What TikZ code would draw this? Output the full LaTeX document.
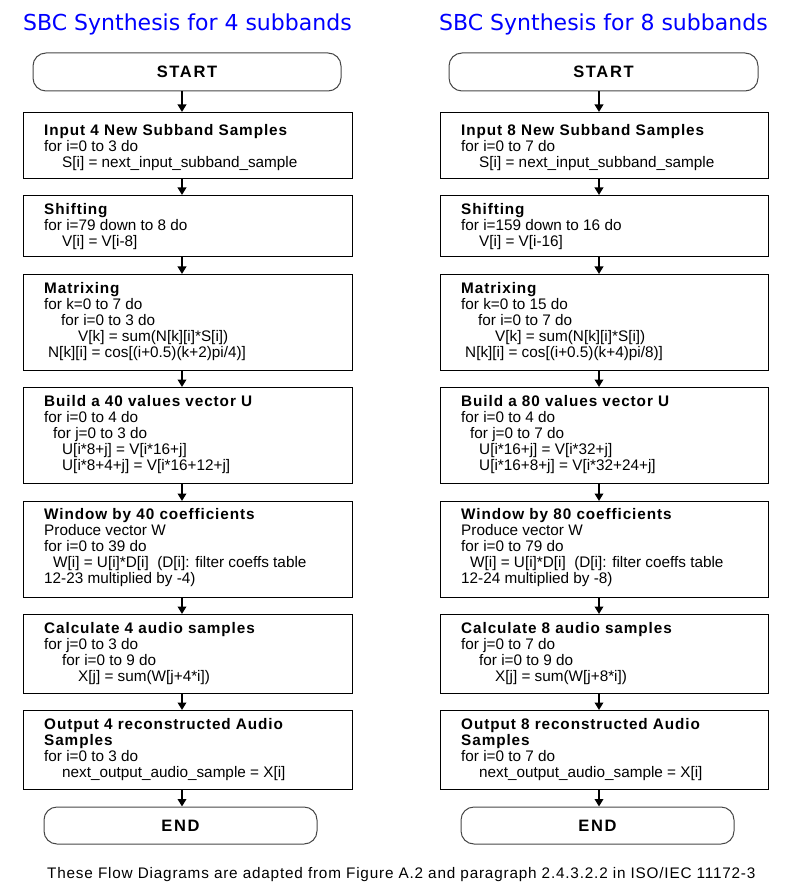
\documentclass[tikz,border=0pt]{standalone}
\usepackage{fontspec}
\setmainfont{Liberation Sans}
\newfontfamily\titlefont{DejaVu Sans}
\newfontfamily\hdfont{Liberation Sans}[LetterSpace=6]
\newfontfamily\termfont{Liberation Sans}[LetterSpace=10]
\newfontfamily\footfont{Liberation Sans}[LetterSpace=5.3]
\usetikzlibrary{arrows.meta}
\definecolor{ttlblue}{RGB}{0,0,255}
\definecolor{termgray}{RGB}{70,70,70}
\newcommand{\hd}[1]{{\hdfont\bfseries #1}}
\tikzset{
  box/.style={draw=black, line width=1.1pt, anchor=north west, inner sep=0pt},
  term/.style={draw=termgray, line width=1pt, rounded corners=13pt, inner sep=0pt,
    font=\termfont\bfseries\fontsize{16.5}{18}\selectfont},
  txt/.style={anchor=north west, inner sep=0pt, align=left, font=\fontsize{15.3}{16}\selectfont},
  arr/.style={line width=2pt, -{Triangle[width=8.5pt,length=7.5pt]}},
  ttl/.style={anchor=base west, inner sep=0pt, text=ttlblue, font=\titlefont\fontsize{22}{26}\selectfont},
  foot/.style={anchor=base west, inner sep=0pt, font=\footfont\fontsize{15.3}{18}\selectfont},
}
\begin{document}
\begin{tikzpicture}[x=1pt,y=-1pt]
\useasboundingbox (0,0) rectangle (798,890);
% titles
\node[ttl] (titleL) at (23,30.5) {SBC Synthesis for 4 subbands};
\node[ttl] (titleR) at (439,30.5) {SBC Synthesis for 8 subbands};
% axes for arrows
\coordinate (axL) at (182,0);
\coordinate (axR) at (599,0);
% ---------------- LEFT COLUMN ----------------
\node[term, minimum width=308pt, minimum height=38pt] (startL) at (187,72) {START};
\node[box, minimum width=329pt, minimum height=66pt] (b1L) at (23,112) {};
\node[box, minimum width=329pt, minimum height=61pt] (b2L) at (23,195) {};
\node[box, minimum width=329pt, minimum height=96pt] (b3L) at (23,274) {};
\node[box, minimum width=329pt, minimum height=96pt] (b4L) at (23,387) {};
\node[box, minimum width=329pt, minimum height=96pt] (b5L) at (23,501) {};
\node[box, minimum width=329pt, minimum height=79pt] (b6L) at (23,614) {};
\node[box, minimum width=329pt, minimum height=79pt] (b7L) at (23,710) {};
\node[term, minimum width=273pt, minimum height=37pt] (endL) at (180.5,825.5) {END};

\node[txt] (t1L) at ([shift={(21pt,-12.5pt)}]b1L.north west)
  {\hd{Input 4 New Subband Samples}\\for i=0 to 3 do\\\hspace*{18pt}S[i] = next\_input\_subband\_sample};
\node[txt] (t2L) at ([shift={(21pt,-8pt)}]b2L.north west)
  {\hd{Shifting}\\for i=79 down to 8 do\\\hspace*{18pt}V[i] = V[i-8]};
\node[txt] (t3L) at ([shift={(21pt,-8pt)}]b3L.north west)
  {\hd{Matrixing}\\for k=0 to 7 do\\\hspace*{17pt}for i=0 to 3 do\\\hspace*{34pt}V[k] = sum(N[k][i]*S[i])\\\hspace*{4pt}N[k][i] = cos[(i+0.5)(k+2)pi/4)]};
\node[txt] (t4L) at ([shift={(21pt,-8pt)}]b4L.north west)
  {\hd{Build a 40 values vector U}\\for i=0 to 4 do\\\hspace*{9pt}for j=0 to 3 do\\\hspace*{18pt}U[i*8+j] = V[i*16+j]\\\hspace*{18pt}U[i*8+4+j] = V[i*16+12+j]};
\node[txt] (t5L) at ([shift={(21pt,-7.5pt)}]b5L.north west)
  {\hd{Window by 40 coefficients}\\Produce vector W\\for i=0 to 39 do\\\hspace*{9pt}W[i] = U[i]*D[i]\ \ (D[i]: filter coeffs table\\12-23 multiplied by -4)};
\node[txt] (t6L) at ([shift={(21pt,-8pt)}]b6L.north west)
  {\hd{Calculate 4 audio samples}\\for j=0 to 3 do\\\hspace*{18pt}for i=0 to 9 do\\\hspace*{34pt}X[j] = sum(W[j+4*i])};
\node[txt] (t7L) at ([shift={(21pt,-8pt)}]b7L.north west)
  {\hd{Output 4 reconstructed Audio}\\\hd{Samples}\\for i=0 to 3 do\\\hspace*{18pt}next\_output\_audio\_sample = X[i]};

\draw[arr] (startL.south -| axL) -- (b1L.north -| axL);
\draw[arr] (b1L.south -| axL) -- (b2L.north -| axL);
\draw[arr] (b2L.south -| axL) -- (b3L.north -| axL);
\draw[arr] (b3L.south -| axL) -- (b4L.north -| axL);
\draw[arr] (b4L.south -| axL) -- (b5L.north -| axL);
\draw[arr] (b5L.south -| axL) -- (b6L.north -| axL);
\draw[arr] (b6L.south -| axL) -- (b7L.north -| axL);
\draw[arr] (b7L.south -| axL) -- (endL.north -| axL);

% ---------------- RIGHT COLUMN ----------------
\node[term, minimum width=309pt, minimum height=38pt] (startR) at (603.5,72) {START};
\node[box, minimum width=328pt, minimum height=66pt] (b1R) at (440,112) {};
\node[box, minimum width=328pt, minimum height=61pt] (b2R) at (440,195) {};
\node[box, minimum width=328pt, minimum height=96pt] (b3R) at (440,274) {};
\node[box, minimum width=328pt, minimum height=96pt] (b4R) at (440,387) {};
\node[box, minimum width=328pt, minimum height=96pt] (b5R) at (440,501) {};
\node[box, minimum width=328pt, minimum height=79pt] (b6R) at (440,614) {};
\node[box, minimum width=328pt, minimum height=79pt] (b7R) at (440,710) {};
\node[term, minimum width=273pt, minimum height=37pt] (endR) at (597.5,825.5) {END};

\node[txt] (t1R) at ([shift={(21pt,-12.5pt)}]b1R.north west)
  {\hd{Input 8 New Subband Samples}\\for i=0 to 7 do\\\hspace*{18pt}S[i] = next\_input\_subband\_sample};
\node[txt] (t2R) at ([shift={(21pt,-8pt)}]b2R.north west)
  {\hd{Shifting}\\for i=159 down to 16 do\\\hspace*{18pt}V[i] = V[i-16]};
\node[txt] (t3R) at ([shift={(21pt,-8pt)}]b3R.north west)
  {\hd{Matrixing}\\for k=0 to 15 do\\\hspace*{17pt}for i=0 to 7 do\\\hspace*{34pt}V[k] = sum(N[k][i]*S[i])\\\hspace*{4pt}N[k][i] = cos[(i+0.5)(k+4)pi/8)]};
\node[txt] (t4R) at ([shift={(21pt,-8pt)}]b4R.north west)
  {\hd{Build a 80 values vector U}\\for i=0 to 4 do\\\hspace*{9pt}for j=0 to 7 do\\\hspace*{18pt}U[i*16+j] = V[i*32+j]\\\hspace*{18pt}U[i*16+8+j] = V[i*32+24+j]};
\node[txt] (t5R) at ([shift={(21pt,-7.5pt)}]b5R.north west)
  {\hd{Window by 80 coefficients}\\Produce vector W\\for i=0 to 79 do\\\hspace*{9pt}W[i] = U[i]*D[i]\ \ (D[i]: filter coeffs table\\12-24 multiplied by -8)};
\node[txt] (t6R) at ([shift={(21pt,-8pt)}]b6R.north west)
  {\hd{Calculate 8 audio samples}\\for j=0 to 7 do\\\hspace*{18pt}for i=0 to 9 do\\\hspace*{34pt}X[j] = sum(W[j+8*i])};
\node[txt] (t7R) at ([shift={(21pt,-8pt)}]b7R.north west)
  {\hd{Output 8 reconstructed Audio}\\\hd{Samples}\\for i=0 to 7 do\\\hspace*{18pt}next\_output\_audio\_sample = X[i]};

\draw[arr] (startR.south -| axR) -- (b1R.north -| axR);
\draw[arr] (b1R.south -| axR) -- (b2R.north -| axR);
\draw[arr] (b2R.south -| axR) -- (b3R.north -| axR);
\draw[arr] (b3R.south -| axR) -- (b4R.north -| axR);
\draw[arr] (b4R.south -| axR) -- (b5R.north -| axR);
\draw[arr] (b5R.south -| axR) -- (b6R.north -| axR);
\draw[arr] (b6R.south -| axR) -- (b7R.north -| axR);
\draw[arr] (b7R.south -| axR) -- (endR.north -| axR);

% footer
\node[foot] (footer) at (47,878) {These Flow Diagrams are adapted from Figure A.2 and paragraph 2.4.3.2.2 in ISO/IEC 11172-3};
\end{tikzpicture}
\end{document}
